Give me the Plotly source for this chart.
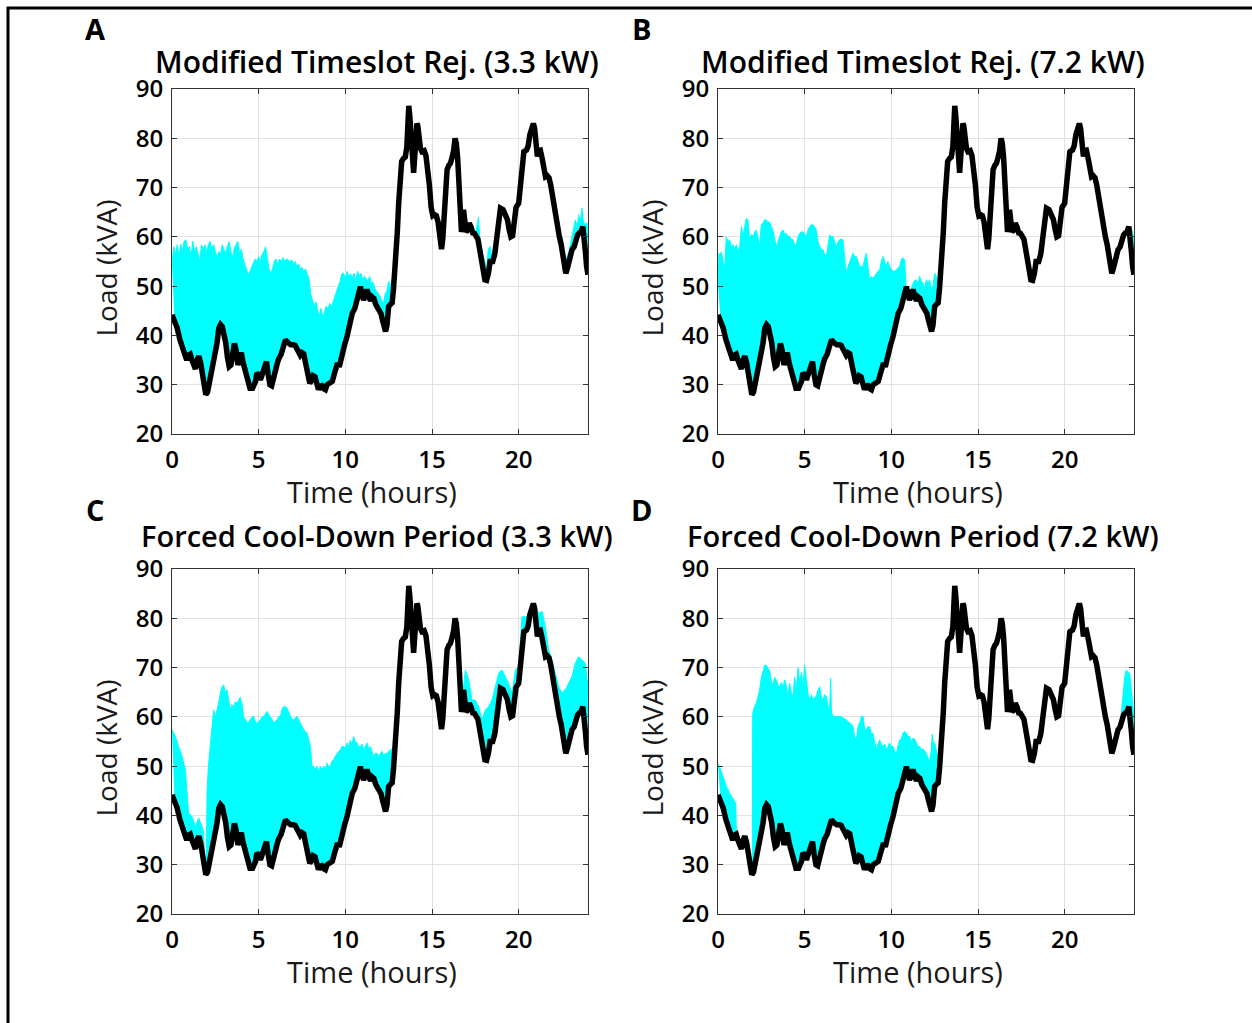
import plotly.graph_objects as go

# ---------------------------------------------------------------- data
# Baseline transformer load over the day (black trace), hours / kVA
hours = [0.00, 0.15, 0.30, 0.45, 0.60, 0.75, 0.85, 0.95, 1.05, 1.15, 1.25, 1.35, 1.45, 1.55, 1.65, 1.75,
         1.85, 1.95, 2.05, 2.20, 2.35, 2.50, 2.60, 2.70, 2.80, 2.90, 3.00, 3.10, 3.20, 3.30, 3.40, 3.50,
         3.60, 3.70, 3.80, 3.90, 4.00, 4.10, 4.20, 4.35, 4.50, 4.65, 4.80, 4.90, 5.00, 5.10, 5.20, 5.30,
         5.45, 5.55, 5.65, 5.75, 5.90, 6.05, 6.15, 6.30, 6.45, 6.55, 6.70, 6.85, 7.00, 7.10, 7.25, 7.40,
         7.50, 7.60, 7.70, 7.80, 7.95, 8.05, 8.15, 8.25, 8.35, 8.45, 8.55, 8.65, 8.75, 8.85, 8.95, 9.10,
         9.25, 9.35, 9.45, 9.55, 9.65, 9.75, 9.85, 9.95, 10.10, 10.25, 10.40, 10.55, 10.67, 10.80, 10.87,
         10.95, 11.05, 11.15, 11.25, 11.35, 11.45, 11.55, 11.65, 11.75, 11.85, 11.95, 12.05, 12.15, 12.25,
         12.32, 12.40, 12.50, 12.60, 12.70, 12.78, 12.85, 12.92, 13.00, 13.08, 13.17, 13.25, 13.35, 13.46,
         13.55, 13.62, 13.66, 13.72, 13.78, 13.85, 13.90, 13.94, 14.00, 14.06, 14.13, 14.18, 14.25, 14.33,
         14.42, 14.55, 14.65, 14.75, 14.85, 14.95, 15.05, 15.15, 15.25, 15.35, 15.45, 15.55, 15.62, 15.70,
         15.78, 15.87, 15.97, 16.06, 16.15, 16.25, 16.33, 16.40, 16.48, 16.55, 16.62, 16.70, 16.75, 16.82,
         16.90, 16.97, 17.05, 17.15, 17.25, 17.35, 17.45, 17.55, 17.65, 17.75, 17.85, 17.95, 18.05, 18.15,
         18.25, 18.35, 18.50, 18.62, 18.75, 18.85, 18.95, 19.10, 19.25, 19.35, 19.45, 19.55, 19.65, 19.75,
         19.85, 20.00, 20.10, 20.20, 20.30, 20.45, 20.55, 20.65, 20.75, 20.85, 20.92, 21.00, 21.08, 21.15,
         21.25, 21.35, 21.45, 21.55, 21.65, 21.75, 21.85, 21.95, 22.05, 22.15, 22.25, 22.35, 22.45, 22.55,
         22.65, 22.72, 22.80, 22.88, 22.98, 23.08, 23.20, 23.30, 23.40, 23.50, 23.60, 23.70, 23.78, 23.85,
         23.92, 24.00]
base_kva = [44.2, 43.0, 41.5, 39.2, 37.5, 36.5, 35.0, 36.0, 36.2, 35.0, 33.5, 33.2, 35.0, 35.8, 34.5, 32.0,
            29.0, 28.0, 28.5, 31.0, 33.5, 35.5, 38.5, 41.5, 42.2, 41.8, 40.5, 38.5, 35.5, 33.7, 34.0, 37.0,
            38.4, 37.0, 34.0, 35.5, 36.5, 34.5, 33.0, 31.0, 29.3, 29.3, 30.5, 32.4, 32.0, 31.0, 32.0, 33.5,
            34.7, 32.0, 30.0, 29.8, 32.5, 34.0, 35.2, 36.2, 38.0, 39.1, 38.5, 38.1, 38.1, 38.0, 37.0, 36.0,
            36.5, 36.3, 34.5, 33.0, 30.3, 30.8, 31.8, 31.6, 30.0, 29.0, 29.7, 29.8, 29.2, 29.0, 30.0, 30.5,
            30.7, 32.0, 34.0, 34.4, 33.6, 35.5, 37.0, 38.0, 39.8, 42.5, 44.5, 45.5, 47.2, 49.0, 49.9,
            48.5, 47.2, 48.0, 49.3, 48.0, 47.0, 47.8, 47.5, 46.3, 45.7, 44.8, 44.5, 43.0, 41.0,
            40.8, 42.0, 45.9, 46.3, 46.6, 49.5, 52.5, 56.5, 61.0, 67.0, 73.0, 75.3, 75.9, 76.2,
            78.3, 84.0, 86.6, 84.5, 80.0, 77.5, 74.0, 73.0, 76.0, 80.0, 83.0, 82.5, 80.0, 78.0,
            77.3, 77.5, 76.5, 74.0, 70.5, 66.0, 64.3, 64.5, 64.3, 63.0, 60.0, 57.5, 59.5, 65.0,
            69.5, 73.6, 74.5, 74.9, 76.0, 77.5, 80.0, 79.0, 76.0, 71.0, 64.0, 61.0, 62.0, 65.5,
            63.0, 61.0, 61.3, 62.8, 62.0, 60.8, 60.7, 60.3, 59.5, 57.5, 55.5, 53.0, 51.3, 51.2,
            52.5, 55.0, 55.0, 56.5, 60.5, 64.0, 65.8, 65.5, 64.5, 63.5, 61.5, 60.0, 60.2, 63.0,
            66.0, 66.8, 70.0, 74.3, 77.3, 77.6, 78.5, 80.8, 81.8, 83.0, 82.0, 78.0, 76.3, 77.5,
            77.6, 76.0, 74.0, 72.2, 72.4, 72.0, 70.5, 68.0, 66.5, 64.0, 61.0, 60.0, 58.5, 56.0,
            53.5, 52.6, 53.5, 54.7, 56.5, 57.4, 58.0, 60.0, 60.4, 60.8, 61.0, 62.1, 60.0, 57.0,
            54.0, 52.3]

# Upper envelope of the EV-charging scenario runs (cyan), one list pair per stretch
# Modified Timeslot Rejection, 3.3 kW
mtr33_a_t = [0.0, 0.1, 0.2, 0.3, 0.4, 0.5, 0.6, 0.7, 0.8, 0.9, 1.0, 1.1, 1.2, 1.3, 1.4, 1.5, 1.6, 1.7, 1.8,
             1.9, 2.0, 2.1, 2.2, 2.3, 2.4, 2.5, 2.6, 2.7, 2.8, 2.9, 3.0, 3.1, 3.2, 3.3, 3.4, 3.5, 3.6, 3.7,
             3.8, 3.9, 4.0, 4.1, 4.2, 4.3, 4.4, 4.5, 4.6, 4.7, 4.8, 4.9, 5.0, 5.1, 5.2, 5.3, 5.4, 5.5, 5.6,
             5.7, 5.8, 5.9, 6.0, 6.1, 6.2, 6.3, 6.4, 6.5, 6.6, 6.7, 6.8, 6.9, 7.0, 7.1, 7.2, 7.3, 7.4, 7.5,
             7.6, 7.7, 7.8, 7.9, 8.0, 8.1, 8.2, 8.3, 8.4, 8.5, 8.6, 8.7, 8.8, 8.9, 9.0, 9.1, 9.2, 9.3, 9.4,
             9.5, 9.6, 9.7, 9.8, 9.9, 10.0, 10.1, 10.2, 10.3, 10.4, 10.5, 10.6, 10.7, 10.8, 10.9, 11.0,
             11.1, 11.2, 11.3, 11.4, 11.5, 11.6, 11.7, 11.8, 11.9, 12.0, 12.1, 12.2, 12.3, 12.4, 12.5,
             12.6, 12.7, 12.8, 12.85]
mtr33_a_v = [54.3, 58.0, 56.5, 58.4, 56.0, 58.5, 57.0, 59.1, 59.4, 57.5, 58.0, 56.0, 59.1, 57.0, 58.0, 56.5,
             55.0, 58.4, 57.5, 58.4, 57.0, 58.4, 59.1, 57.5, 58.4, 57.0, 55.8, 57.0, 56.5, 58.4, 57.5, 56.5,
             58.2, 59.0, 57.0, 55.8, 57.8, 58.6, 59.1, 56.5, 57.5, 55.5, 54.5, 53.5, 52.3, 53.0, 54.0, 54.8,
             55.5, 55.0, 56.0, 55.0, 56.5, 57.0, 58.0, 56.0, 53.5, 52.5, 53.5, 55.0, 55.5, 54.5, 55.5, 55.0,
             55.8, 55.0, 55.5, 55.3, 55.0, 55.3, 54.5, 55.0, 54.0, 54.5, 53.5, 53.8, 53.0, 53.5, 52.6, 51.5,
             48.5, 47.0, 46.0, 46.8, 45.0, 44.0, 45.5, 43.5, 45.0, 46.0, 45.3, 46.5, 45.8, 47.0, 48.0, 49.0,
             50.0, 51.0, 52.5, 52.6, 51.5, 53.0, 52.0, 52.5, 51.5, 52.6, 51.0, 53.0, 52.0, 52.6, 51.3, 52.0,
             51.5, 51.0, 52.0, 50.5, 50.8, 49.5, 49.0, 48.5, 48.0, 47.0, 46.5, 48.5, 49.0, 51.0, 50.0, 51.5,
             52.5, 52.5]
mtr33_b_t = [17.45, 17.55, 17.62, 17.68, 17.75, 17.85, 17.95, 18.05, 18.15, 18.25, 18.35, 18.45, 18.55, 18.62]
mtr33_b_v = [60.7, 61.5, 62.5, 64.0, 60.0, 57.5, 56.0, 55.0, 53.5, 57.5, 58.0, 56.0, 55.5, 56.5]
mtr33_c_t = [22.35, 22.5, 22.6, 22.7, 22.88, 23.0, 23.08, 23.2, 23.27, 23.38, 23.46, 23.55, 23.65, 23.72,
             23.8, 23.94, 24.0]
mtr33_c_v = [60.0, 60.0, 57.0, 55.3, 56.7, 59.0, 60.1, 62.5, 63.4, 62.0, 64.5, 63.0, 65.8, 63.5, 62.5,
             62.8, 60.7]

# Modified Timeslot Rejection, 7.2 kW
mtr72_a_t = [0.0, 0.05, 0.1, 0.19, 0.3, 0.38, 0.48, 0.58, 0.67, 0.77, 0.87, 0.97, 1.06, 1.15, 1.25, 1.35,
             1.44, 1.54, 1.63, 1.73, 1.83, 1.92, 2.02, 2.12, 2.21, 2.3, 2.4, 2.5, 2.6, 2.7, 2.79, 2.9, 2.98,
             3.08, 3.17, 3.27, 3.37, 3.46, 3.56, 3.65, 3.75, 3.85, 3.94, 4.04, 4.13, 4.23, 4.33, 4.42, 4.52,
             4.62, 4.71, 4.8, 4.9, 5.0, 5.1, 5.2, 5.29, 5.38, 5.48, 5.58, 5.67, 5.77, 5.87, 5.96, 6.06, 6.15,
             6.25, 6.35, 6.44, 6.54, 6.63, 6.73, 6.83, 6.92, 7.02, 7.12, 7.21, 7.3, 7.4, 7.5, 7.6, 7.7, 7.79,
             7.88, 7.98, 8.08, 8.17, 8.27, 8.37, 8.46, 8.56, 8.65, 8.75, 8.85, 8.94, 9.03, 9.13, 9.23, 9.33,
             9.42, 9.52, 9.62, 9.71, 9.8, 9.9, 10.0, 10.1, 10.2, 10.29, 10.38, 10.48, 10.58, 10.67, 10.77,
             10.85]
mtr72_a_v = [50.5, 56.7, 56.0, 57.0, 55.0, 53.5, 60.0, 59.0, 59.4, 58.0, 58.4, 57.5, 58.4, 57.0, 58.0, 62.1,
             60.0, 62.1, 63.8, 63.4, 59.4, 60.5, 60.1, 61.0, 61.4, 60.0, 58.0, 62.5, 62.8, 63.5, 63.4, 63.0,
             63.0, 62.0, 61.4, 59.5, 58.0, 59.0, 60.1, 61.0, 61.4, 60.5, 60.7, 60.0, 60.1, 59.5, 59.4, 58.5,
             58.4, 60.0, 60.7, 61.0, 61.0, 60.5, 60.1, 61.5, 62.1, 62.5, 62.4, 62.0, 61.4, 59.0, 58.0, 57.5,
             57.4, 56.5, 56.0, 58.5, 60.4, 60.0, 60.1, 59.0, 58.0, 59.0, 59.4, 59.5, 59.4, 56.0, 52.6, 54.0,
             55.0, 56.0, 56.7, 56.0, 56.0, 55.0, 54.0, 54.0, 54.0, 55.5, 56.7, 54.0, 51.3, 52.0, 51.6, 52.0,
             52.6, 53.0, 53.3, 55.0, 56.0, 55.0, 54.0, 55.0, 54.0, 53.5, 53.0, 53.0, 53.3, 53.5, 54.0, 55.5,
             55.7, 55.3, 50.0]
mtr72_b_t = [11.1, 11.2, 11.3, 11.44, 11.55, 11.63, 11.73, 11.83, 11.92, 12.02, 12.12, 12.21, 12.3, 12.4,
             12.5, 12.6, 12.69, 12.75]
mtr72_b_v = [48.0, 50.0, 51.0, 51.3, 50.5, 52.0, 51.0, 50.6, 49.5, 51.3, 50.5, 51.3, 49.5, 49.9, 52.6, 52.0,
             49.9, 48.5]
mtr72_c_t = [23.72, 23.85, 23.95, 24.0]
mtr72_c_v = [61.5, 62.0, 60.0, 58.0]

# Forced Cool-Down Period, 3.3 kW
fcd33_a_t = [0.0, 0.19, 0.38, 0.58, 0.77, 0.87, 0.96, 1.15, 1.35, 1.54, 1.73, 1.83, 1.9]
fcd33_a_v = [57.4, 56.1, 54.0, 52.0, 49.3, 44.5, 40.5, 39.8, 37.8, 39.5, 37.8, 36.4, 29.5]
fcd33_b_t = [1.98, 2.02, 2.1, 2.21, 2.3, 2.4, 2.5, 2.6, 2.7, 2.79, 2.88, 2.98, 3.08, 3.17, 3.27, 3.37, 3.46,
             3.56, 3.65, 3.75, 3.85, 3.94, 4.04, 4.13, 4.23, 4.33, 4.42, 4.52, 4.62, 4.71, 4.81, 4.9, 5.0,
             5.1, 5.2, 5.29, 5.38, 5.48, 5.58, 5.67, 5.77, 5.87, 5.96, 6.06, 6.15, 6.25, 6.35, 6.44, 6.54,
             6.63, 6.73, 6.83, 6.92, 7.02, 7.12, 7.21, 7.3, 7.4, 7.5, 7.6, 7.7, 7.79, 7.88, 7.98, 8.08, 8.17,
             8.27, 8.37, 8.46, 8.56, 8.65, 8.75, 8.85, 8.94, 9.03, 9.13, 9.23, 9.33, 9.42, 9.52, 9.62, 9.71,
             9.8, 9.9, 10.0, 10.1, 10.2, 10.29, 10.38, 10.48, 10.58, 10.67, 10.77, 10.87, 10.96, 11.06,
             11.15, 11.25, 11.35, 11.44, 11.54, 11.63, 11.73, 11.83, 11.92, 12.02, 12.12, 12.21, 12.3, 12.4,
             12.5, 12.6, 12.7, 12.79, 12.85]
fcd33_b_v = [28.2, 44.5, 50.0, 54.0, 58.0, 61.4, 60.0, 61.4, 63.0, 64.8, 66.0, 66.5, 65.0, 65.5, 63.0, 61.4,
             62.5, 62.1, 63.0, 62.8, 63.4, 64.0, 62.5, 60.0, 59.5, 58.7, 59.0, 59.4, 60.0, 60.1, 59.0, 58.7,
             59.0, 59.4, 60.0, 60.1, 60.5, 61.1, 60.5, 60.1, 59.5, 58.7, 59.0, 59.4, 60.0, 60.1, 61.5, 62.1,
             62.0, 61.8, 61.0, 60.1, 59.5, 59.4, 59.8, 60.1, 59.5, 58.7, 58.0, 57.4, 57.0, 56.7, 55.5, 54.0,
             50.0, 49.9, 49.5, 49.9, 49.0, 49.9, 49.3, 49.9, 49.5, 50.6, 50.0, 49.9, 51.0, 51.3, 52.0, 52.6,
             53.0, 53.3, 54.0, 54.0, 53.5, 54.7, 54.0, 55.3, 54.5, 56.0, 55.0, 54.7, 54.0, 54.0, 54.5, 53.3,
             54.0, 54.7, 53.5, 54.0, 53.0, 52.0, 52.6, 52.6, 52.0, 52.6, 53.0, 52.0, 52.6, 52.6, 53.0, 53.3,
             53.5, 54.0, 52.5]
fcd33_c_t = [16.68, 16.73, 16.92, 17.12, 17.31, 17.5, 17.69, 17.88, 18.08, 18.27, 18.46, 18.65, 18.85, 19.04,
             19.23, 19.42, 19.62, 19.81, 20.0, 20.19, 20.38, 20.58, 20.77, 20.96, 21.15, 21.35, 21.54, 21.73,
             21.92, 22.12, 22.31, 22.5, 22.69, 22.88, 23.08, 23.27, 23.46, 23.65, 23.85, 24.0]
fcd33_c_v = [61.5, 63.4, 69.5, 67.5, 63.4, 63.4, 62.1, 59.4, 61.4, 62.1, 63.4, 66.1, 68.9, 69.5, 68.2, 66.8,
             64.8, 69.5, 70.2, 80.3, 80.3, 80.3, 81.7, 82.4, 81.0, 81.4, 78.3, 73.6, 71.6, 68.9, 66.1, 64.8,
             65.5, 66.8, 68.2, 70.9, 72.2, 71.6, 70.9, 66.1]

# Forced Cool-Down Period, 7.2 kW
fcd72_a_t = [0.0, 0.1, 0.29, 0.48, 0.67, 0.87, 1.02, 1.06]
fcd72_a_v = [50.5, 49.8, 47.9, 45.9, 44.5, 43.2, 42.5, 36.8]
fcd72_b_t = [1.98, 2.0, 2.1, 2.21, 2.3, 2.4, 2.5, 2.6, 2.7, 2.79, 2.88, 2.98, 3.08, 3.17, 3.27, 3.37, 3.46,
             3.56, 3.65, 3.75, 3.85, 3.94, 4.04, 4.13, 4.23, 4.33, 4.42, 4.52, 4.62, 4.71, 4.81, 4.9, 5.0,
             5.1, 5.2, 5.29, 5.38, 5.48, 5.58, 5.67, 5.77, 5.87, 5.96, 6.06, 6.15, 6.25, 6.35, 6.44, 6.5,
             6.55, 6.63, 6.83, 7.02, 7.21, 7.4, 7.5, 7.6, 7.7, 7.79, 7.88, 7.98, 8.08, 8.17, 8.27, 8.37,
             8.46, 8.56, 8.65, 8.75, 8.85, 8.94, 9.03, 9.13, 9.23, 9.33, 9.42, 9.52, 9.62, 9.71, 9.8, 9.9,
             10.0, 10.1, 10.2, 10.29, 10.38, 10.48, 10.58, 10.67, 10.77, 10.87, 10.96, 11.06, 11.15, 11.25,
             11.35, 11.44, 11.54, 11.63, 11.73, 11.83, 11.92, 12.02, 12.12, 12.21, 12.3, 12.36, 12.4, 12.5,
             12.6, 12.69, 12.78]
fcd72_b_v = [28.2, 60.7, 62.0, 62.8, 64.0, 65.5, 68.0, 69.5, 70.5, 70.5, 69.8, 69.5, 67.0, 66.5, 68.0, 67.5,
             66.5, 66.0, 67.0, 66.0, 67.5, 66.5, 64.0, 66.8, 65.0, 64.0, 68.0, 65.5, 70.0, 67.0, 69.0, 66.0,
             70.5, 67.5, 64.5, 63.4, 64.5, 63.4, 64.0, 64.1, 65.5, 66.1, 64.0, 63.4, 64.5, 64.1, 62.0, 61.4,
             67.8, 61.0, 60.1, 60.1, 60.1, 59.8, 59.4, 59.0, 58.7, 58.5, 58.0, 56.0, 55.3, 58.0, 58.7, 60.1,
             60.1, 57.5, 57.4, 58.0, 58.0, 56.5, 56.7, 55.0, 53.3, 54.5, 55.3, 54.5, 54.0, 54.5, 53.3, 54.0,
             54.7, 54.0, 54.0, 53.0, 52.6, 54.0, 55.3, 55.5, 56.7, 57.0, 56.7, 56.0, 56.0, 55.0, 55.7, 55.5,
             54.7, 54.0, 54.0, 53.3, 53.5, 53.0, 52.6, 51.5, 51.3, 53.0, 56.5, 55.0, 54.7, 53.3, 51.3, 49.5]
fcd72_c_t = [23.2, 23.3, 23.37, 23.46, 23.56, 23.65, 23.75, 23.85, 23.94, 24.0]
fcd72_c_v = [58.0, 62.0, 66.1, 68.0, 69.5, 69.0, 68.9, 65.0, 62.8, 60.1]

titles = ["Modified Timeslot Rej. (3.3 kW)", "Modified Timeslot Rej. (7.2 kW)",
          "Forced Cool-Down Period (3.3 kW)", "Forced Cool-Down Period (7.2 kW)"]
panel_letters = ["A", "B", "C", "D"]
x_ticks = [0, 5, 10, 15, 20]
y_ticks = [20, 30, 40, 50, 60, 70, 80, 90]

panel_envelopes = [
    [(mtr33_a_t, mtr33_a_v), (mtr33_b_t, mtr33_b_v), (mtr33_c_t, mtr33_c_v)],
    [(mtr72_a_t, mtr72_a_v), (mtr72_b_t, mtr72_b_v), (mtr72_c_t, mtr72_c_v)],
    [(fcd33_a_t, fcd33_a_v), (fcd33_b_t, fcd33_b_v), (fcd33_c_t, fcd33_c_v)],
    [(fcd72_a_t, fcd72_a_v), (fcd72_b_t, fcd72_b_v), (fcd72_c_t, fcd72_c_v)],
]

# ---------------------------------------------------------------- layout geometry (pixels)
W, H = 1252, 1023
CYAN = "#00FFFF"
FONT = "Open Sans"

# plot-area boxes: (left, right, top, bottom)
boxes = [(172, 588, 89, 434), (718, 1134, 89, 434),
         (172, 588, 569, 914), (718, 1134, 569, 914)]
# vertical gap between each panel title and its plot area, and title sizes
title_gaps = [27, 27, 34, 34]
title_sizes = [30, 30, 29, 29]


def px(x):
    return x / W


def py(y):
    return 1 - y / H


fig = go.Figure()
annotations = []

for i, (l, r, t, b) in enumerate(boxes):
    n = "" if i == 0 else str(i + 1)
    xa, ya = "x" + n, "y" + n

    # cyan band: envelope on top, baseline underneath
    for seg_t, seg_v in panel_envelopes[i]:
        lo, hi = seg_t[0], seg_t[-1]
        back = [(h, v) for h, v in zip(hours, base_kva) if lo < h < hi][::-1]
        poly_x = list(seg_t) + [h for h, _ in back]
        poly_y = list(seg_v) + [v for _, v in back]
        fig.add_trace(go.Scatter(x=poly_x, y=poly_y, mode="lines", fill="toself",
                                 fillcolor=CYAN, line=dict(color=CYAN, width=1),
                                 xaxis=xa, yaxis=ya, showlegend=False, hoverinfo="skip"))

    fig.add_trace(go.Scatter(x=hours, y=base_kva, mode="lines",
                             line=dict(color="black", width=5.5),
                             xaxis=xa, yaxis=ya, showlegend=False))

    axis_common = dict(showline=True, linecolor="#333333", linewidth=1, mirror="ticks",
                       ticks="inside", ticklen=5, tickcolor="#333333", automargin=False,
                       showgrid=True, gridcolor="#e1e1e1", gridwidth=1, zeroline=False,
                       tickfont=dict(family=FONT, size=24, color="black", weight=600))
    fig.update_layout(**{
        "xaxis" + n: dict(domain=[px(l), px(r)], range=[0, 24], tickvals=x_ticks,
                          anchor=ya, ticklabelstandoff=4, **axis_common),
        "yaxis" + n: dict(domain=[py(b), py(t)], range=[20, 90], tickvals=y_ticks,
                          anchor=xa, ticklabelstandoff=3, **axis_common),
    })

    cx = (l + r) / 2
    annotations.append(dict(text=titles[i], x=px(cx - 3), y=py(t - title_gaps[i]), xref="paper",
                            yref="paper", showarrow=False, xanchor="center", yanchor="middle",
                            font=dict(family=FONT, size=title_sizes[i], color="black", weight=600)))
    annotations.append(dict(text="Time (hours)", x=px(cx - 8), y=py(b + 57), xref="paper", yref="paper",
                            showarrow=False, xanchor="center", yanchor="middle",
                            font=dict(family=FONT, size=29, color="#1a1a1a", weight=500)))
    annotations.append(dict(text="Load (kVA)", x=px(l - 67), y=py((t + b) / 2 + 7), xref="paper",
                            yref="paper", showarrow=False, textangle=-90,
                            xanchor="center", yanchor="middle",
                            font=dict(family=FONT, size=28, color="#1a1a1a", weight=500)))
    annotations.append(dict(text=panel_letters[i], x=px(l - 77), y=py(t - 60), xref="paper",
                            yref="paper", showarrow=False, xanchor="center", yanchor="middle",
                            font=dict(family=FONT, size=29, color="black", weight=700)))

fig.update_layout(
    width=W, height=H,
    margin=dict(l=0, r=0, t=0, b=0, pad=0, autoexpand=False),
    paper_bgcolor="white", plot_bgcolor="white",
    annotations=annotations,
    shapes=[dict(type="rect", xref="paper", yref="paper",
                 x0=px(8), x1=1.02, y0=-0.02, y1=py(8),
                 line=dict(color="black", width=3))],
)

fig.write_html("out.html")
